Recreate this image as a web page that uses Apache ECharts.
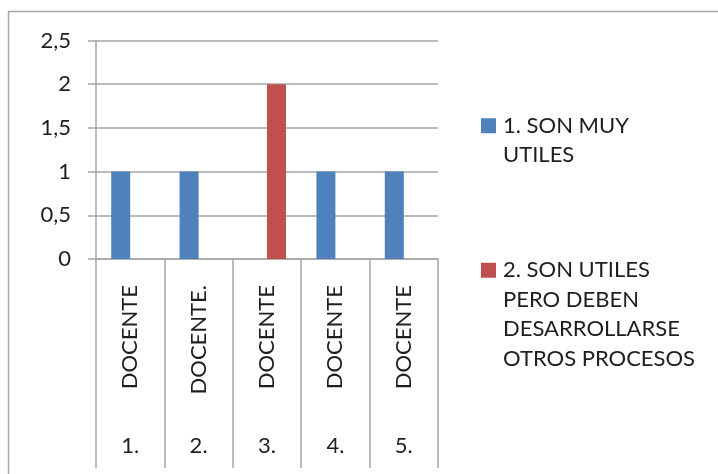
<!DOCTYPE html>
<html>
<head>
<meta charset="utf-8">
<script src="https://cdn.jsdelivr.net/npm/echarts@6/dist/echarts.min.js"></script>
<style>
  html, body { margin: 0; padding: 0; background: #fff; }
  #chart { width: 718px; height: 474px; }
</style>
</head>
<body>
<div id="chart"></div>
<script>
  // categorias (dos niveles) y valores
  const docentes = ['DOCENTE', 'DOCENTE.', 'DOCENTE', 'DOCENTE', 'DOCENTE']
  const numeros = ['1.', '2.', '3.', '4.', '5.']
  const serie1Nombre = '1. SON MUY UTILES'
  const serie2Nombre = '2. SON UTILES PERO DEBEN DESARROLLARSE OTROS PROCESOS'
  const serie1 = [1, 1, 0, 1, 1]
  const serie2 = [0, 0, 2, 0, 0]
  const yTicks = [0, 0.5, 1, 1.5, 2, 2.5]

  // texto de la leyenda partido en lineas (lineas vacias arriba para alinear el icono con la primera)
  const leyendaTexto = {}
  leyendaTexto[serie1Nombre] = '\n1. SON MUY\nUTILES'
  leyendaTexto[serie2Nombre] = '\n\n\n2. SON UTILES\nPERO DEBEN\nDESARROLLARSE\nOTROS PROCESOS'

  const fuente = 'Lato'
  const gris = '#a6a6a6'
  const texto = '#1e1e1e'

  const chart = echarts.init(document.getElementById('chart'))

  const leyenda = (nombre, top) => ({
    data: [nombre],
    orient: 'vertical',
    left: 481,
    top: top,
    padding: 0,
    itemWidth: 15,
    itemHeight: 15,
    itemGap: 0,
    icon: 'rect',
    selectedMode: false,
    formatter: n => leyendaTexto[n],
    textStyle: { fontFamily: fuente, fontSize: 22, lineHeight: 29.5, color: texto, padding: [0, 0, 0, 2] }
  })

  chart.setOption({
    animation: false,
    backgroundColor: '#fff',
    graphic: [{
      type: 'rect',
      shape: { x: 8.5, y: 11.5, width: 800, height: 600 },
      style: { fill: 'none', stroke: gris, lineWidth: 1.5 },
      silent: true
    }],
    grid: { left: 96, right: 280, top: 40.5, bottom: 215 },
    legend: [leyenda(serie1Nombre, 81.5), leyenda(serie2Nombre, 167)],
    xAxis: [
      {
        type: 'category',
        data: docentes,
        axisLine: { show: true, lineStyle: { color: gris, width: 1.5 } },
        axisTick: { show: true, length: 209, lineStyle: { color: gris, width: 1.5 } },
        axisLabel: {
          rotate: 90, margin: 26, interval: 0,
          fontFamily: fuente, fontSize: 22, color: texto
        },
        splitLine: { show: false }
      },
      {
        type: 'category',
        data: numeros,
        position: 'bottom',
        axisLine: { show: false },
        axisTick: { show: false },
        axisLabel: { margin: 176, interval: 0, fontFamily: fuente, fontSize: 22, color: texto },
        splitLine: { show: false }
      }
    ],
    yAxis: {
      type: 'value',
      min: yTicks[0],
      max: yTicks[yTicks.length - 1],
      interval: 0.5,
      axisLine: { show: true, lineStyle: { color: gris, width: 1.5 } },
      axisTick: { show: true, inside: false, length: 8, lineStyle: { color: gris, width: 1.5 } },
      axisLabel: {
        margin: 25, fontFamily: fuente, fontSize: 22, color: texto,
        formatter: v => String(v).replace('.', ',')
      },
      splitLine: { show: true, lineStyle: { color: gris, width: 1.5 } }
    },
    series: [
      {
        type: 'bar', name: serie1Nombre, data: serie1, xAxisIndex: 0,
        barWidth: 19, barGap: '0%',
        itemStyle: { color: '#4f81bd' }
      },
      {
        type: 'bar', name: serie2Nombre, data: serie2, xAxisIndex: 0,
        barWidth: 19, barGap: '0%',
        itemStyle: { color: '#c0504d' }
      }
    ]
  })
</script>
</body>
</html>
